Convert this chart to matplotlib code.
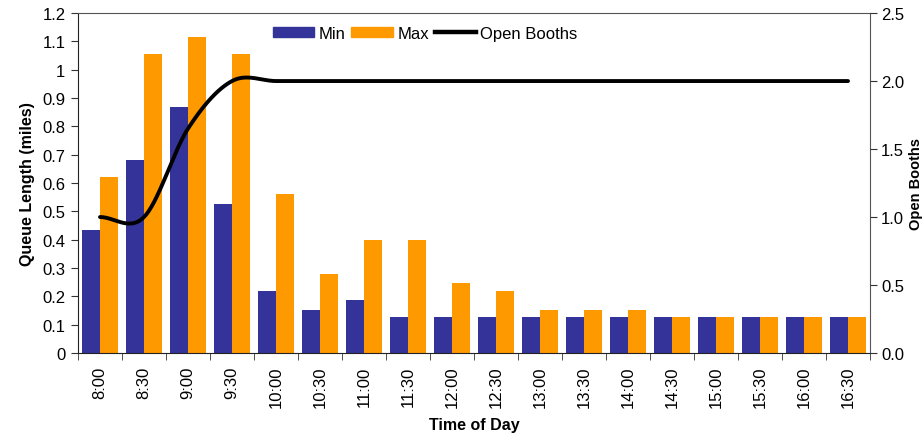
import numpy as np
import matplotlib.pyplot as plt
from matplotlib.lines import Line2D
from matplotlib.patches import Patch

plt.rcParams['font.family'] = ['Liberation Sans', 'DejaVu Sans']

times = ['8:00', '8:30', '9:00', '9:30', '10:00', '10:30', '11:00', '11:30', '12:00',
         '12:30', '13:00', '13:30', '14:00', '14:30', '15:00', '15:30', '16:00', '16:30']
queue_min = [0.435, 0.682, 0.869, 0.526, 0.219, 0.152, 0.187, 0.127, 0.127,
             0.127, 0.127, 0.127, 0.127, 0.127, 0.127, 0.127, 0.127, 0.127]
queue_max = [0.622, 1.057, 1.117, 1.057, 0.562, 0.279, 0.399, 0.399, 0.247,
             0.219, 0.152, 0.152, 0.152, 0.127, 0.127, 0.127, 0.127, 0.127]
open_booths = [1.0, 1.0, 1.65, 2.0, 2.0, 2.0, 2.0, 2.0, 2.0,
               2.0, 2.0, 2.0, 2.0, 2.0, 2.0, 2.0, 2.0, 2.0]

MIN_COLOR = '#333399'
MAX_COLOR = '#FF9900'


def smooth(y, steps=30):
    # spreadsheet-style smoothed line (cardinal spline through the points)
    y = np.asarray(y, dtype=float)
    n = len(y)
    xs, ys = [], []
    for i in range(n - 1):
        p0 = y[i - 1] if i > 0 else y[i]
        p1, p2 = y[i], y[i + 1]
        p3 = y[i + 2] if i + 2 < n else y[i + 1]
        t = np.linspace(0, 1, steps, endpoint=(i == n - 2))
        c1 = p1 + (p2 - p0) / 6
        c2 = p2 - (p3 - p1) / 6
        b = (1 - t) ** 3 * p1 + 3 * (1 - t) ** 2 * t * c1 + 3 * (1 - t) * t ** 2 * c2 + t ** 3 * p2
        xs.append(i + t)
        ys.append(b)
    return np.concatenate(xs), np.concatenate(ys)


fig = plt.figure(figsize=(9.23, 4.39), dpi=100)
ax = fig.add_axes([0.0845, 0.1936, 0.8581, 0.7744])
x = np.arange(len(times))
w = 0.4
ax.bar(x - w / 2, queue_min, w, color=MIN_COLOR)
ax.bar(x + w / 2, queue_max, w, color=MAX_COLOR)

ax.set_xlim(-0.5, len(times) - 0.5)
ax.set_ylim(0, 1.2)
ax.set_yticks(np.arange(0, 1.21, 0.1))
ax.set_yticklabels(['0', '0.1', '0.2', '0.3', '0.4', '0.5', '0.6', '0.7', '0.8', '0.9', '1', '1.1', '1.2'])
ax.set_xticks(x)
ax.set_xticklabels(times, rotation=90)
ax.set_xticks(np.arange(-0.5, len(times), 1), minor=True)
ax.tick_params(axis='x', which='major', length=0, labelsize=12, pad=9)
ax.tick_params(axis='x', which='minor', length=5, direction='out', color='#333333')
ax.tick_params(axis='y', labelsize=12, length=5, color='#333333', pad=4)
ax.set_ylabel('Queue Length (miles)', fontsize=11.5, fontweight='bold', labelpad=5)
ax.set_xlabel('Time of Day', fontsize=11.5, fontweight='bold', labelpad=7)
for s in ax.spines.values():
    s.set_color('#555555')
    s.set_linewidth(0.8)
ax.spines['left'].set_color('#222222')
ax.spines['bottom'].set_color('#222222')

ax2 = ax.twinx()
lx, ly = smooth(open_booths)
ax2.plot(lx, ly, color='black', lw=2.8, solid_capstyle='round')
ax2.set_ylim(0, 2.5)
ax2.set_yticks(np.arange(0, 2.51, 0.5))
ax2.set_yticklabels(['0.0', '0.5', '1.0', '1.5', '2.0', '2.5'])
ax2.tick_params(axis='y', labelsize=12, length=5, color='#333333', pad=3)
ax2.set_ylabel('Open Booths', fontsize=10.5, fontweight='bold')
ax2.yaxis.set_label_coords(1.049, 0.5)
for s in ax2.spines.values():
    s.set_visible(False)

handles = [Patch(color=MIN_COLOR), Patch(color=MAX_COLOR),
           Line2D([0], [0], color='black', lw=3.2)]
ax.legend(handles, ['Min', 'Max', 'Open Booths'], loc='upper left', ncol=3,
          bbox_to_anchor=(0.246, 0.962), frameon=False, fontsize=12,
          borderpad=0, borderaxespad=0,
          handlelength=2.5, handleheight=0.6, handletextpad=0.25, columnspacing=0.35)

fig.savefig('out.png', dpi=100)
